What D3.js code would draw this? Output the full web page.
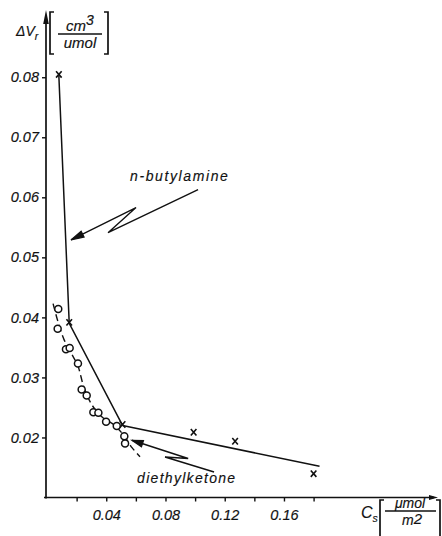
<!DOCTYPE html>
<html>
<head>
<meta charset="utf-8">
<script src="https://cdn.jsdelivr.net/npm/d3@7"></script>
<style>
  html, body { margin: 0; padding: 0; background: #fff; }
  svg { display: block; }
  text { font-family: "Liberation Sans", Arial, sans-serif; font-style: italic; fill: #111; stroke: #111; stroke-width: 0.15px; }
</style>
</head>
<body>
<svg id="chart" width="442" height="536"></svg>
<script>
// n-butylamine: measured points (x markers)
const butylX = [0.008, 0.015, 0.051, 0.099, 0.127, 0.180];
const butylY = [0.0803, 0.0390, 0.0220, 0.0207, 0.0192, 0.0138];
// n-butylamine: connecting line for the steep part, then the straight fit
const butylLineX = [0.008, 0.015, 0.051];
const butylLineY = [0.0803, 0.0390, 0.0220];
const butylFitX = [0.051, 0.184];
const butylFitY = [0.0220, 0.0152];

// diethylketone: measured points (open circles)
const ketoneX = [0.0076, 0.0072, 0.0128, 0.0153, 0.0209, 0.0234, 0.0268, 0.0313, 0.0347, 0.0399, 0.0471, 0.0522, 0.0527];
const ketoneY = [0.0414, 0.0381, 0.0347, 0.0349, 0.0323, 0.0280, 0.0270, 0.0242, 0.0241, 0.0226, 0.0219, 0.0202, 0.0190];
// diethylketone: dashed trend curve
const ketoneFitX = [0.0041, 0.0074, 0.0115, 0.0169, 0.0209, 0.0250, 0.0304, 0.0372, 0.0453, 0.0520, 0.0574, 0.0628];
const ketoneFitY = [0.0423, 0.0393, 0.0363, 0.0338, 0.0319, 0.0283, 0.0254, 0.0234, 0.0221, 0.0203, 0.0183, 0.0168];

// axis ticks
const xTicks = [0.02, 0.04, 0.06, 0.08, 0.10, 0.12, 0.14, 0.16, 0.18];
const xTickLabels = ["", "0.04", "", "0.08", "", "0.12", "", "0.16", ""];
const yTicks = [0.02, 0.03, 0.04, 0.05, 0.06, 0.07, 0.08];
const yTickLabels = ["0.02", "0.03", "0.04", "0.05", "0.06", "0.07", "0.08"];

// annotation leaders (lightning-style arrows), in data units
const butylLabel = "n-butylamine";
const butylLabelAt = [0.0561, 0.0627];
const butylLeaderX = [0.102, 0.0412, 0.0601, 0.0162];
const butylLeaderY = [0.0613, 0.0541, 0.0583, 0.0529];
const ketoneLabel = "diethylketone";
const ketoneLabelAt = [0.0608, 0.0124];
const ketoneLeaderX = [0.1128, 0.0797, 0.0953, 0.0574];
const ketoneLeaderY = [0.01425, 0.01675, 0.0165, 0.01953];

const svg = d3.select("#chart");
const x = d3.scaleLinear().domain([0, 0.264]).range([47, 438]);
const y = d3.scaleLinear().domain([0.01, 0.0912]).range([497.5, 10]);
const ink = "#111";

// ---- axes ----
const gx = svg.append("g").attr("transform", `translate(0,${y(0.01)})`)
  .call(d3.axisBottom(x).tickValues(xTicks).tickSize(4).tickPadding(8)
        .tickFormat((d, i) => xTickLabels[i]));
gx.select(".domain").remove();
gx.selectAll(".tick line").attr("stroke", ink).attr("stroke-width", 1.4);
gx.selectAll(".tick text").attr("font-size", 14.5).attr("font-family", null).attr("fill", ink);

const gy = svg.append("g").attr("transform", `translate(${x(0) - 1},0)`)
  .call(d3.axisLeft(y).tickValues(yTicks).tickSize(4).tickPadding(3)
        .tickFormat((d, i) => yTickLabels[i]));
gy.select(".domain").remove();
gy.selectAll(".tick line").attr("stroke", ink).attr("stroke-width", 1.4);
gy.selectAll(".tick text").attr("font-size", 14.5).attr("font-family", null).attr("fill", ink);

// axis lines with arrowheads
const x0 = x(0) - 1, yBase = y(0.01);
svg.append("line").attr("x1", x0 - 2).attr("x2", x.range()[1] - 4)
  .attr("y1", yBase).attr("y2", yBase).attr("stroke", ink).attr("stroke-width", 1.7);
svg.append("path")
  .attr("d", `M${x.range()[1]},${yBase} L${x.range()[1] - 9},${yBase - 2.6} L${x.range()[1] - 9},${yBase + 2.6} Z`)
  .attr("fill", ink);
svg.append("line").attr("x1", x0).attr("x2", x0)
  .attr("y1", yBase + 1).attr("y2", y.range()[1] + 8).attr("stroke", ink).attr("stroke-width", 1.7);
svg.append("path")
  .attr("d", `M${x0},${y.range()[1]} L${x0 - 2.8},${y.range()[1] + 14} L${x0 + 2.8},${y.range()[1] + 14} Z`)
  .attr("fill", ink);

// ---- axis titles ----
const yt = svg.append("text").attr("x", 16).attr("y", 36).attr("font-size", 14);
yt.append("tspan").text("ΔV");
yt.append("tspan").attr("font-size", 10.5).attr("dy", 4).text("r");

function bracket(g, x1, x2, yTop, yBot) {
  g.append("path").attr("d", `M${x1 + 4},${yTop} L${x1},${yTop} L${x1},${yBot} L${x1 + 4},${yBot}`)
    .attr("fill", "none").attr("stroke", ink).attr("stroke-width", 1.7);
  g.append("path").attr("d", `M${x2 - 4},${yTop} L${x2},${yTop} L${x2},${yBot} L${x2 - 4},${yBot}`)
    .attr("fill", "none").attr("stroke", ink).attr("stroke-width", 1.7);
}
const yUnit = svg.append("g");
bracket(yUnit, 50, 108, 12, 54);
const cm = yUnit.append("text").attr("x", 80).attr("y", 31).attr("font-size", 15).attr("text-anchor", "middle");
cm.append("tspan").text("cm");
cm.append("tspan").attr("font-size", 14).attr("dy", -6).text("3");
yUnit.append("line").attr("x1", 58).attr("x2", 102).attr("y1", 34).attr("y2", 34)
  .attr("stroke", ink).attr("stroke-width", 1.4);
yUnit.append("text").attr("x", 80).attr("y", 48).attr("font-size", 15).attr("text-anchor", "middle").text("umol");

const xt = svg.append("text").attr("x", 361).attr("y", 518).attr("font-size", 16);
xt.append("tspan").text("C");
xt.append("tspan").attr("font-size", 10.5).attr("dy", 4).text("s");
const xUnit = svg.append("g");
bracket(xUnit, 380, 440, 500, 540);
xUnit.append("text").attr("x", 410).attr("y", 508).attr("font-size", 14).attr("text-anchor", "middle").text("μmol");
xUnit.append("line").attr("x1", 385).attr("x2", 436).attr("y1", 511).attr("y2", 511)
  .attr("stroke", ink).attr("stroke-width", 1.4);
const m2 = xUnit.append("text").attr("x", 412).attr("y", 525).attr("font-size", 14).attr("text-anchor", "middle");
m2.append("tspan").text("m");
m2.append("tspan").attr("font-size", 15).attr("dy", -1).text("2");

// ---- series ----
const line = d3.line().x(d => x(d[0])).y(d => y(d[1]));
const zip = (a, b) => a.map((v, i) => [v, b[i]]);

svg.append("path").datum(zip(butylLineX, butylLineY)).attr("d", line)
  .attr("fill", "none").attr("stroke", ink).attr("stroke-width", 1.5);
svg.append("path").datum(zip(butylFitX, butylFitY)).attr("d", line)
  .attr("fill", "none").attr("stroke", ink).attr("stroke-width", 1.5);

svg.append("path").datum(zip(ketoneFitX, ketoneFitY))
  .attr("d", d3.line().x(d => x(d[0])).y(d => y(d[1])).curve(d3.curveCatmullRom))
  .attr("fill", "none").attr("stroke", ink).attr("stroke-width", 1.4)
  .attr("stroke-dasharray", "7,4");

svg.append("g").selectAll("circle").data(zip(ketoneX, ketoneY)).join("circle")
  .attr("cx", d => x(d[0])).attr("cy", d => y(d[1])).attr("r", 3.5)
  .attr("fill", "#fff").attr("stroke", ink).attr("stroke-width", 1.5);

svg.append("g").selectAll("path").data(zip(butylX, butylY)).join("path")
  .attr("d", d => {
    const cx = x(d[0]), cy = y(d[1]) - 1;
    return `M${cx - 2.8},${cy - 3.2} L${cx + 2.8},${cy + 3.2} M${cx + 2.8},${cy - 3.2} L${cx - 2.8},${cy + 3.2}`;
  })
  .attr("stroke", ink).attr("stroke-width", 1.6).attr("fill", "none");

// ---- annotations ----
function leader(xs, ys, headLen, headW) {
  const pts = zip(xs, ys).map(d => [x(d[0]), y(d[1])]);
  svg.append("path").attr("d", d3.line()(pts))
    .attr("fill", "none").attr("stroke", ink).attr("stroke-width", 1.4);
  const [tx, ty] = pts[pts.length - 1], [sx, sy] = pts[pts.length - 2];
  const L = Math.hypot(tx - sx, ty - sy), ux = (tx - sx) / L, uy = (ty - sy) / L;
  const bx = tx - ux * headLen, by = ty - uy * headLen;
  svg.append("path")
    .attr("d", `M${tx},${ty} L${bx - uy * headW},${by + ux * headW} L${bx + uy * headW},${by - ux * headW} Z`)
    .attr("fill", ink).attr("stroke", ink).attr("stroke-width", 1.2);
}
leader(butylLeaderX, butylLeaderY, 13, 3.3);
leader(ketoneLeaderX, ketoneLeaderY, 11, 3.3);

svg.append("text").attr("x", x(butylLabelAt[0])).attr("y", y(butylLabelAt[1]))
  .attr("font-size", 14).attr("letter-spacing", 1.6).text(butylLabel);
svg.append("text").attr("x", x(ketoneLabelAt[0])).attr("y", y(ketoneLabelAt[1]))
  .attr("font-size", 14).attr("letter-spacing", 1.3).text(ketoneLabel);
</script>
</body>
</html>
